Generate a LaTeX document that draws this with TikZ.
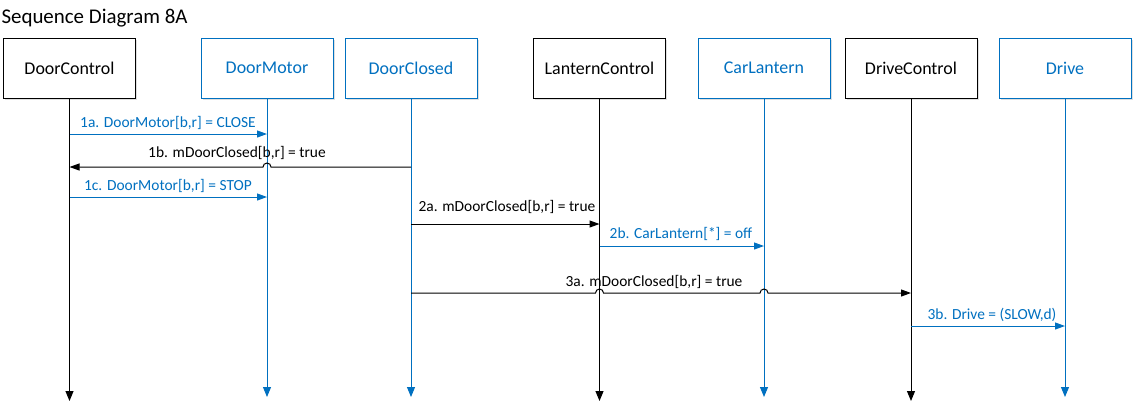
\documentclass[tikz,border=0pt]{standalone}
\usepackage{fontspec}
\setmainfont{Carlito}
\usepackage{tikz, xcolor}
\usetikzlibrary{arrows.meta,shadows}

\definecolor{msblue}{HTML}{0070C0}

\begin{document}
\begin{tikzpicture}[x=1bp, y=-1bp, line width=1bp,
    obj/.style = {rectangle, draw, fill=white, minimum width=132bp, minimum height=60bp,
                  outer sep=0pt, font=\fontsize{18}{20}\selectfont,
                  drop shadow={shadow xshift=1.5bp, shadow yshift=-1.5bp, opacity=0.25}},
    objblue/.style = {obj, draw=msblue, text=msblue},
    life/.style = {-{Triangle[length=10bp,width=8bp]}},
    lifeblue/.style = {life, msblue},
    msg/.style = {-{Triangle[length=10bp,width=7bp]}},
    msgblue/.style = {msg, msblue},
    lbl/.style = {anchor=base, inner sep=0pt, font=\fontsize{15.5}{17}\selectfont},
    lblblue/.style = {lbl, text=msblue}]
    \useasboundingbox (0,0) rectangle (1134,403);

    \node[anchor=base west, inner sep=0pt, font=\fontsize{21}{24}\selectfont] (title) at (1,23) {Sequence Diagram 8A};

    % objects
    \node[obj]     (dc)  at (69.5,68) {DoorControl};
    \node[objblue] (dm)  at (267,68)  {DoorMotor};
    \node[objblue] (dcl) at (411,68)  {DoorClosed};
    \node[obj]     (lc)  at (599.5,68) {LanternControl};
    \node[objblue] (cl)  at (764,68)  {CarLantern};
    \node[obj]     (drc) at (911,68)  {DriveControl};
    \node[objblue] (dr)  at (1065,68) {Drive};

    % lifelines
    \draw[life]     (dc.south)  -- (dc.south |- 0,401);
    \draw[lifeblue] (dm.south)  -- (dm.south |- 0,397);
    \draw[lifeblue] (dcl.south) -- (dcl.south |- 0,397);
    \draw[life]     (lc.south)  -- (lc.south |- 0,401);
    \draw[lifeblue] (cl.south)  -- (cl.south |- 0,397);
    \draw[life]     (drc.south) -- (drc.south |- 0,401);
    \draw[lifeblue] (dr.south)  -- (dr.south |- 0,397);

    % messages
    \draw[msgblue] (dc.south |- 0,134) -- (dm.south |- 0,134);
    \node[lblblue] (t1a) at (168,127) {1a. DoorMotor[b,r] = CLOSE};

    \draw[msg] (dcl.south |- 0,167) -- (271,167) arc[start angle=0, end angle=-180, radius=4] -- (dc.south |- 0,167);
    \node[lbl] (t1b) at (237,157) {1b. mDoorClosed[b,r] = true};

    \draw[msgblue] (dc.south |- 0,197) -- (dm.south |- 0,197);
    \node[lblblue] (t1c) at (168,190) {1c. DoorMotor[b,r] = STOP};

    \draw[msg] (dcl.south |- 0,224) -- (lc.south |- 0,224);
    \node[lbl] (t2a) at (507,211) {2a. mDoorClosed[b,r] = true};

    \draw[msgblue] (lc.south |- 0,246) -- (cl.south |- 0,246);
    \node[lblblue] (t2b) at (681,238) {2b. CarLantern[*] = off};

    \draw[msg] (dcl.south |- 0,293) -- (595.5,293) arc[start angle=180, end angle=360, radius=4]
        -- (760,293) arc[start angle=180, end angle=360, radius=4] -- (drc.south |- 0,293);
    \node[lbl] (t3a) at (654,286) {3a. mDoorClosed[b,r] = true};

    \draw[msgblue] (drc.south |- 0,326) -- (dr.south |- 0,326);
    \node[lblblue] (t3b) at (992,319) {3b. Drive = (SLOW,d)};
\end{tikzpicture}
\end{document}
